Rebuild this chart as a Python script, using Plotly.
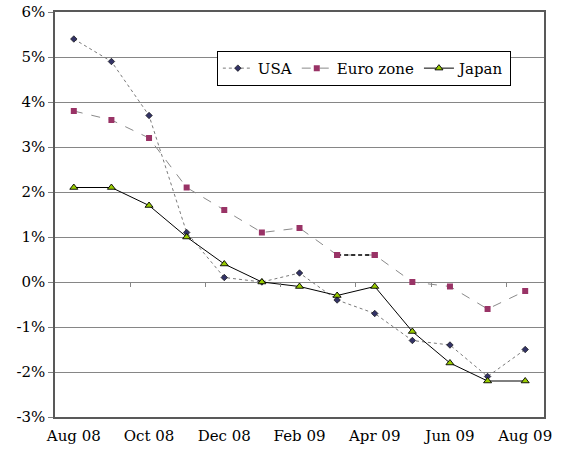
import plotly.graph_objects as go

# Monthly year-on-year inflation, Aug 2008 - Aug 2009 (%)
months = ["Aug 08", "Sep 08", "Oct 08", "Nov 08", "Dec 08", "Jan 09", "Feb 09",
          "Mar 09", "Apr 09", "May 09", "Jun 09", "Jul 09", "Aug 09"]
usa = [5.4, 4.9, 3.7, 1.1, 0.1, 0.0, 0.2, -0.4, -0.7, -1.3, -1.4, -2.1, -1.5]
euro = [3.8, 3.6, 3.2, 2.1, 1.6, 1.1, 1.2, 0.6, 0.6, 0.0, -0.1, -0.6, -0.2]
japan = [2.1, 2.1, 1.7, 1.0, 0.4, 0.0, -0.1, -0.3, -0.1, -1.1, -1.8, -2.2, -2.2]
y_ticks = [-3, -2, -1, 0, 1, 2, 3, 4, 5, 6]

x = list(range(len(months)))
label_idx = x[::2]
font = "DejaVu Serif"

fig = go.Figure()

fig.add_trace(go.Scatter(
    x=x, y=usa, name="USA", mode="lines+markers",
    line=dict(color="#7a7a7a", width=1, dash="dot"),
    marker=dict(symbol="diamond", size=5, color="#333366",
                line=dict(color="#111111", width=0.7)),
))
fig.add_trace(go.Scatter(
    x=x, y=euro, name="Euro zone", mode="lines+markers",
    line=dict(color="#8a8a8a", width=1, dash="dash"),
    marker=dict(symbol="square", size=6, color="#993366",
                line=dict(color="#993366", width=0)),
))
# flat Mar-Apr stretch of the euro series rendered in a darker dash
fig.add_trace(go.Scatter(
    x=x[7:9], y=euro[7:9], mode="lines", showlegend=False, hoverinfo="skip",
    line=dict(color="#000000", width=1.3, dash="4px,3px"),
))
fig.add_trace(go.Scatter(
    x=x[7:9], y=euro[7:9], mode="markers", showlegend=False, hoverinfo="skip",
    marker=dict(symbol="square", size=6, color="#993366"),
))
fig.add_trace(go.Scatter(
    x=x, y=japan, name="Japan", mode="lines+markers",
    line=dict(color="#000000", width=1),
    marker=dict(symbol="triangle-up", size=7, color="#99cc00",
                line=dict(color="#000000", width=0.9)),
))

# category ticks crossing the zero line
fig.add_trace(go.Scatter(x=[x[0], x[-1]], y=[0, 0], xaxis="x2", mode="none",
                         showlegend=False, hoverinfo="skip"))

fig.update_layout(
    width=563, height=451,
    margin=dict(l=55, r=19, t=12, b=34, autoexpand=False),
    paper_bgcolor="white", plot_bgcolor="white",
    font=dict(family=font, size=15, color="#000000"),
    showlegend=True,
    legend=dict(
        orientation="h", x=0.331, y=0.904, xanchor="left", yanchor="top",
        bgcolor="white", bordercolor="#000000", borderwidth=1,
        font=dict(family=font, size=15, color="#000000"),
        itemwidth=30, tracegroupgap=0,
    ),
    xaxis=dict(
        range=[-0.5, len(months) - 0.5], automargin=False,
        tickvals=label_idx, ticktext=[months[i] for i in label_idx],
        ticks="outside", ticklen=4, tickcolor="rgba(0,0,0,0)",
        showgrid=False, zeroline=False,
        showline=True, linecolor="#595959", linewidth=1.5, mirror=True,
        tickfont=dict(family=font, size=15),
    ),
    xaxis2=dict(
        overlaying="x", anchor="free", position=3 / 9, automargin=False,
        range=[-0.5, len(months) - 0.5],
        tickvals=[i + 0.5 for i in x[1:-1:2]],
        ticks="outside", ticklen=4, tickcolor="#868686",
        showticklabels=False, showgrid=False, zeroline=False, showline=False,
    ),
    yaxis=dict(
        range=[-3, 6], tickvals=y_ticks, automargin=False,
        ticktext=[f"{v}%" for v in y_ticks],
        ticks="outside", ticklen=5, tickcolor="#808080",
        showgrid=True, gridcolor="#868686", gridwidth=1,
        zeroline=False,
        showline=True, linecolor="#595959", linewidth=1.5, mirror=True,
        tickfont=dict(family=font, size=15),
    ),
)

fig.write_html("out.html")
